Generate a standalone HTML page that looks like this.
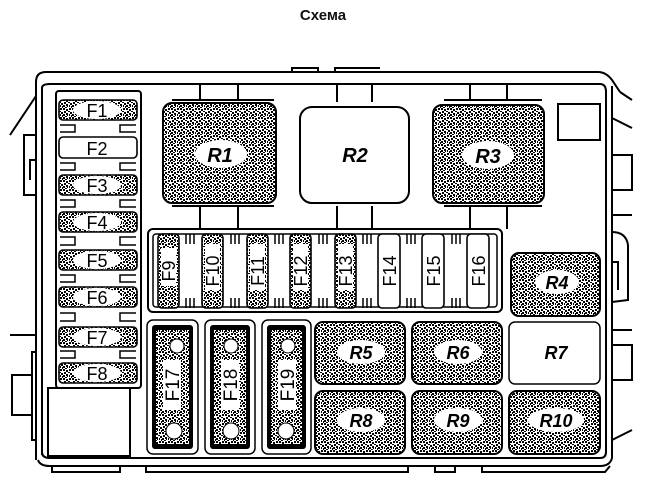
<!DOCTYPE html>
<html><head><meta charset="utf-8"><style>
html,body{margin:0;padding:0;background:#fff;}
svg{display:block}
text{font-family:"Liberation Sans",sans-serif;}
</style></head><body>
<svg width="646" height="490" viewBox="0 0 646 490" xmlns="http://www.w3.org/2000/svg">
<defs>
<pattern id="sp" width="9" height="9" patternUnits="userSpaceOnUse">
<rect width="9" height="9" fill="#fff"/>
<rect x="0" y="0" width="2" height="2" fill="#000"/>
<rect x="3" y="1" width="2" height="2" fill="#000"/>
<rect x="6" y="0" width="2" height="2" fill="#000"/>
<rect x="1" y="3" width="2" height="2" fill="#000"/>
<rect x="5" y="3" width="2" height="1" fill="#000"/>
<rect x="7" y="4" width="2" height="2" fill="#000"/>
<rect x="0" y="6" width="2" height="2" fill="#000"/>
<rect x="3" y="5" width="2" height="2" fill="#000"/>
<rect x="6" y="6" width="1" height="2" fill="#000"/>
<rect x="2" y="8" width="2" height="1" fill="#000"/>
<rect x="8" y="7" width="1" height="2" fill="#000"/>
<rect x="4" y="7" width="1" height="1" fill="#000"/>
</pattern>
</defs>
<text x="323" y="20" text-anchor="middle" font-size="15" font-weight="bold" fill="#111">Схема</text>

<g fill="none" stroke="#000" stroke-width="2">
<path d="M36,460 L36,82 Q36,72 46,72 L598,72 Q606,72 612,80 L620,92"/>
<path d="M42,455 L42,88 Q42,84 50,84 L600,84 Q606,84 606,92 L606,452 Q606,458 600,458 L50,458 Q42,458 42,452"/>
<path d="M38,460 Q40,466 50,466 L600,466 Q610,466 612,458 L612,86"/>
<path d="M292,72 L292,68 L318,68 L318,72 M335,72 L335,68 L380,68"/>
<path d="M52,466 L52,472 L120,472 L120,466 M146,466 L146,472 L408,472 L408,466 M435,466 L435,472 L455,472 L455,466 M482,466 L482,472 L605,472 L610,466"/>
<path d="M10,135 L36,96 M36,135 L24,135 L24,195 L36,195 M36,160 L30,160 L30,180 M10,335 L36,335 M36,352 L32,352 L32,440 L36,440 M32,375 L12,375 L12,415 L32,415"/>
<path d="M620,92 L632,100 M612,118 L632,128 M612,155 L632,155 L632,190 L612,190 M612,215 L632,215 M612,232 Q626,232 628,245 L628,300 L612,302 M612,262 L618,262 L618,290 M612,330 L632,330 M612,345 L632,345 L632,380 L612,380 M612,440 L632,430"/>
<rect x="558" y="104" width="42" height="36"/>
</g>

<g fill="none" stroke="#000" stroke-width="2">
<rect x="56" y="91" width="85" height="297" rx="3"/>
<rect x="48" y="388" width="82" height="68"/>
</g>
<g font-size="18" text-anchor="middle" stroke-width="1.6">
<rect x="59" y="100" width="78" height="20" rx="4" fill="url(#sp)" stroke="#000"/>
<rect x="59" y="137" width="78" height="21" rx="4" fill="#fff" stroke="#000"/>
<rect x="59" y="175" width="78" height="20" rx="4" fill="url(#sp)" stroke="#000"/>
<rect x="59" y="212" width="78" height="20" rx="4" fill="url(#sp)" stroke="#000"/>
<rect x="59" y="250" width="78" height="20" rx="4" fill="url(#sp)" stroke="#000"/>
<rect x="59" y="287" width="78" height="20" rx="4" fill="url(#sp)" stroke="#000"/>
<rect x="59" y="327" width="78" height="20" rx="4" fill="url(#sp)" stroke="#000"/>
<rect x="59" y="363" width="78" height="20" rx="4" fill="url(#sp)" stroke="#000"/>
<g fill="#fff">
<ellipse cx="97" cy="110" rx="24" ry="9"/><ellipse cx="97" cy="185" rx="24" ry="9"/>
<ellipse cx="97" cy="222" rx="24" ry="9"/><ellipse cx="97" cy="260" rx="24" ry="9"/>
<ellipse cx="97" cy="297" rx="24" ry="9"/><ellipse cx="97" cy="337" rx="24" ry="9"/>
<ellipse cx="97" cy="373" rx="24" ry="9"/>
</g>
<g fill="#000" stroke="none">
<text x="97" y="117">F1</text><text x="97" y="155">F2</text><text x="97" y="192">F3</text>
<text x="97" y="229">F4</text><text x="97" y="267">F5</text><text x="97" y="304">F6</text>
<text x="97" y="344">F7</text><text x="97" y="380">F8</text>
</g>
</g>
<g fill="none" stroke="#000" stroke-width="1.5">
<path d="M60,125 L75,125 L75,132 L60,132 M136,125 L120,125 L120,132 L136,132"/>
<path d="M60,163 L75,163 L75,170 L60,170 M136,163 L120,163 L120,170 L136,170"/>
<path d="M60,200 L75,200 L75,207 L60,207 M136,200 L120,200 L120,207 L136,207"/>
<path d="M60,237 L75,237 L75,245 L60,245 M136,237 L120,237 L120,245 L136,245"/>
<path d="M60,275 L75,275 L75,282 L60,282 M136,275 L120,275 L120,282 L136,282"/>
<path d="M60,313 L75,313 L75,321 L60,321 M136,313 L120,313 L120,321 L136,321"/>
<path d="M60,351 L75,351 L75,358 L60,358 M136,351 L120,351 L120,358 L136,358"/>
</g>

<g fill="none" stroke="#000" stroke-width="2">
<path d="M200,84 L200,100 M238,84 L238,100 M200,206 L200,229 M238,206 L238,229"/>
<path d="M337,84 L337,102 M372,84 L372,102 M337,206 L337,229 M372,206 L372,229"/>
<path d="M470,84 L470,100 M507,84 L507,100 M470,206 L470,229 M507,206 L507,229"/>
<path d="M172,100 L274,100 M172,206 L274,206 M444,100 L542,100 M444,206 L542,206"/>
</g>
<g stroke="#000" stroke-width="2">
<rect x="163" y="103" width="113" height="100" rx="9" fill="url(#sp)"/>
<rect x="300" y="107" width="109" height="96" rx="12" fill="#fff"/>
<rect x="433" y="105" width="111" height="98" rx="9" fill="url(#sp)"/>
</g>
<g fill="#fff"><ellipse cx="221" cy="154" rx="26" ry="14"/><ellipse cx="488" cy="155" rx="26" ry="14"/></g>
<g font-size="20" font-weight="bold" font-style="italic" text-anchor="middle" fill="#000">
<text x="220" y="162">R1</text><text x="355" y="162">R2</text><text x="488" y="163">R3</text>
</g>

<rect x="148" y="229" width="354" height="83" rx="5" fill="#fff" stroke="#000" stroke-width="2"/>
<rect x="153" y="234" width="344" height="73" rx="3" fill="none" stroke="#000" stroke-width="1.5"/>
<g stroke="#000" stroke-width="1.6">
<rect x="158" y="234" width="21" height="74" rx="4" fill="url(#sp)"/>
<rect x="202" y="234" width="21" height="74" rx="4" fill="url(#sp)"/>
<rect x="247" y="234" width="21" height="74" rx="4" fill="url(#sp)"/>
<rect x="290" y="234" width="21" height="74" rx="4" fill="url(#sp)"/>
<rect x="335" y="234" width="21" height="74" rx="4" fill="url(#sp)"/>
<rect x="378" y="234" width="22" height="74" rx="4" fill="#fff"/>
<rect x="422" y="234" width="22" height="74" rx="4" fill="#fff"/>
<rect x="467" y="234" width="22" height="74" rx="4" fill="#fff"/>
</g>
<g fill="#fff">
<rect x="161" y="248" width="15" height="38"/><rect x="205" y="244" width="15" height="46"/>
<rect x="250" y="244" width="15" height="46"/><rect x="293" y="244" width="15" height="46"/>
<rect x="338" y="244" width="15" height="46"/>
</g>
<g fill="none" stroke="#000" stroke-width="1.5">
<path d="M186,234 v10 M190,234 v10 M194,234 v10 M186,308 v-10 M190,308 v-10 M194,308 v-10"/>
<path d="M231,234 v10 M235,234 v10 M239,234 v10 M231,308 v-10 M235,308 v-10 M239,308 v-10"/>
<path d="M275,234 v10 M279,234 v10 M283,234 v10 M275,308 v-10 M279,308 v-10 M283,308 v-10"/>
<path d="M319,234 v10 M323,234 v10 M327,234 v10 M319,308 v-10 M323,308 v-10 M327,308 v-10"/>
<path d="M363,234 v10 M367,234 v10 M371,234 v10 M363,308 v-10 M367,308 v-10 M371,308 v-10"/>
<path d="M407,234 v10 M411,234 v10 M415,234 v10 M407,308 v-10 M411,308 v-10 M415,308 v-10"/>
<path d="M452,234 v10 M456,234 v10 M460,234 v10 M452,308 v-10 M456,308 v-10 M460,308 v-10"/>
</g>
<g font-size="18" text-anchor="middle" fill="#000">
<text transform="translate(175,271) rotate(-90)">F9</text>
<text transform="translate(219,271) rotate(-90)">F10</text>
<text transform="translate(264,271) rotate(-90)">F11</text>
<text transform="translate(307,271) rotate(-90)">F12</text>
<text transform="translate(352,271) rotate(-90)">F13</text>
<text transform="translate(396,271) rotate(-90)">F14</text>
<text transform="translate(440,271) rotate(-90)">F15</text>
<text transform="translate(485,271) rotate(-90)">F16</text>
</g>

<g>
<rect x="147" y="320" width="51" height="134" rx="6" fill="#fff" stroke="#000" stroke-width="1.5"/>
<rect x="152" y="325" width="41" height="124" rx="3" fill="#000"/>
<rect x="156" y="330" width="33" height="114" fill="url(#sp)"/>
<rect x="205" y="320" width="50" height="134" rx="6" fill="#fff" stroke="#000" stroke-width="1.5"/>
<rect x="210" y="325" width="40" height="124" rx="3" fill="#000"/>
<rect x="214" y="330" width="32" height="114" fill="url(#sp)"/>
<rect x="262" y="320" width="49" height="134" rx="6" fill="#fff" stroke="#000" stroke-width="1.5"/>
<rect x="267" y="325" width="39" height="124" rx="3" fill="#000"/>
<rect x="271" y="330" width="31" height="114" fill="url(#sp)"/>
<g fill="#fff" stroke="#000" stroke-width="1">
<circle cx="177" cy="346" r="7"/><circle cx="174" cy="431" r="8"/>
<circle cx="231" cy="346" r="7"/><circle cx="231" cy="431" r="8"/>
<circle cx="288" cy="346" r="7"/><circle cx="286" cy="431" r="8"/>
</g>
<g fill="#fff"><rect x="163" y="360" width="18" height="50"/><rect x="221" y="360" width="18" height="50"/><rect x="278" y="360" width="18" height="50"/></g>
<g font-size="19" text-anchor="middle" fill="#000">
<text transform="translate(179,385) rotate(-90)">F17</text>
<text transform="translate(237,385) rotate(-90)">F18</text>
<text transform="translate(294,385) rotate(-90)">F19</text>
</g>
</g>

<g stroke="#000" stroke-width="2">
<rect x="511" y="253" width="89" height="63" rx="8" fill="url(#sp)"/>
<rect x="315" y="322" width="90" height="62" rx="8" fill="url(#sp)"/>
<rect x="412" y="322" width="90" height="62" rx="8" fill="url(#sp)"/>
<rect x="509" y="322" width="91" height="62" rx="6" fill="#fff" stroke-width="1.5"/>
<rect x="315" y="391" width="90" height="63" rx="8" fill="url(#sp)"/>
<rect x="412" y="391" width="90" height="63" rx="8" fill="url(#sp)"/>
<rect x="509" y="391" width="91" height="63" rx="8" fill="url(#sp)"/>
</g>
<g fill="#fff">
<ellipse cx="557" cy="282" rx="22" ry="12"/>
<ellipse cx="361" cy="352" rx="24" ry="12"/><ellipse cx="458" cy="352" rx="24" ry="12"/>
<ellipse cx="361" cy="420" rx="24" ry="12"/><ellipse cx="458" cy="420" rx="24" ry="12"/>
<ellipse cx="556" cy="420" rx="28" ry="12"/>
</g>
<g font-size="18" font-weight="bold" font-style="italic" text-anchor="middle" fill="#000">
<text x="557" y="289">R4</text><text x="361" y="359">R5</text><text x="458" y="359">R6</text>
<text x="556" y="359">R7</text><text x="361" y="427">R8</text><text x="458" y="427">R9</text>
<text x="556" y="427">R10</text>
</g>
</svg>
</body></html>
